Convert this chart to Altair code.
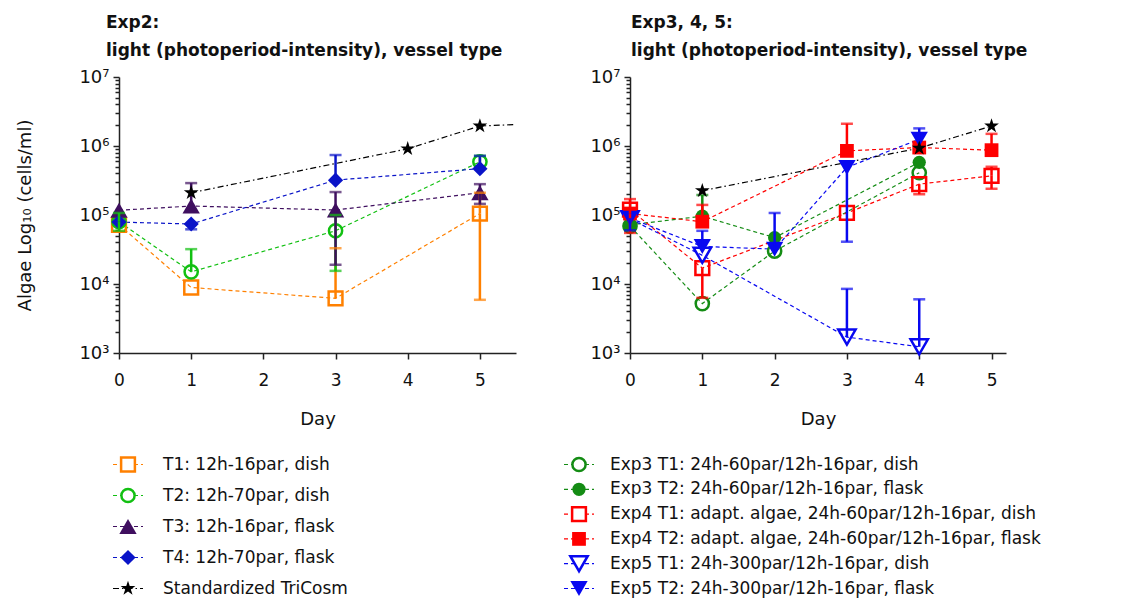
import altair as alt
import pandas as pd

FONT = "DejaVu Sans"
INK = "#111111"
AXIS_INK = "#222222"
# five-point star drawn inside the unit box [-1, 1]
STAR = ("M0,-1L0.2245,-0.309L0.9511,-0.309L0.3633,0.118L0.5878,0.809L0,0.382"
        "L-0.5878,0.809L-0.3633,0.118L-0.9511,-0.309L-0.2245,-0.309Z")
DASH = [4, 3]
DASH_DOT = [6, 3, 1.5, 3]
STAR_SIZE = 240

# ---------------- Exp2 ----------------
exp2_names = ["T1: 12h-16par, dish", "T2: 12h-70par, dish",
              "T3: 12h-16par, flask", "T4: 12h-70par, flask"]
exp2_colors = ["#ff8000", "#12c012", "#3f0f5f", "#0a14c8"]
exp2_shapes = ["square", "circle", "triangle-up", "diamond"]
exp2_sizes = [190, 175, 300, 230]
exp2_open = ["T1: 12h-16par, dish", "T2: 12h-70par, dish"]

t1_days = [0, 1, 3, 5]
t1_mean = [72000, 8900, 6200, 105000]
t1_hi = [None, None, 33000, 210000]
t1_lo = [None, None, None, 5900]

t2_days = [0, 1, 3, 5]
t2_mean = [80000, 15000, 59000, 590000]
t2_hi = [107000, 32000, 100000, 720000]
t2_lo = [59000, None, 15500, None]

t3_days = [0, 1, 3, 5]
t3_mean = [117000, 135000, 118000, 210000]
t3_hi = [None, 290000, 215000, 280000]
t3_lo = [None, None, 19000, 145000]

t4_days = [0, 1, 3, 5]
t4_mean = [79000, 74000, 320000, 470000]
t4_hi = [None, None, 740000, 720000]
t4_lo = [None, 62000, None, None]

tricosm_days_l = [1, 4, 5]
tricosm_l = [210000, 910000, 1950000]
tricosm_trend_days_l = [1, 4, 5, 5.5]
tricosm_trend_l = [210000, 910000, 1950000, 2050000]

# ---------------- Exp3, 4, 5 ----------------
exp345_names = ["Exp3 T1: 24h-60par/12h-16par, dish",
                "Exp3 T2: 24h-60par/12h-16par, flask",
                "Exp4 T1: adapt. algae, 24h-60par/12h-16par, dish",
                "Exp4 T2: adapt. algae, 24h-60par/12h-16par, flask",
                "Exp5 T1: 24h-300par/12h-16par, dish",
                "Exp5 T2: 24h-300par/12h-16par, flask"]
exp345_colors = ["#148c14", "#148c14", "#ff0000", "#ff0000", "#0808f0", "#0808f0"]
exp345_shapes = ["circle", "circle", "square", "square", "triangle-down", "triangle-down"]
exp345_sizes = [175, 175, 190, 190, 300, 300]
exp345_open = [exp345_names[0], exp345_names[2], exp345_names[4]]

e3t1_days = [0, 1, 2, 4]
e3t1_mean = [69000, 5200, 30000, 410000]
e3t1_hi = [None, None, None, None]
e3t1_lo = [None, None, None, None]

e3t2_days = [0, 1, 2, 4]
e3t2_mean = [72000, 96000, 47000, 580000]
e3t2_hi = [None, 195000, None, None]
e3t2_lo = [None, None, None, None]

e4t1_days = [0, 1, 3, 4, 5]
e4t1_mean = [120000, 17000, 107000, 280000, 370000]
e4t1_hi = [None, None, None, None, 500000]
e4t1_lo = [None, 6300, None, 200000, 240000]

e4t2_days = [0, 1, 3, 4, 5]
e4t2_mean = [105000, 80000, 850000, 950000, 870000]
e4t2_hi = [170000, 140000, 2100000, None, 1500000]
e4t2_lo = [55000, None, None, None, None]

e5t1_days = [0, 1, 3, 4]
e5t1_mean = [88000, 26000, 1700, 1230]
e5t1_hi = [None, None, 8500, 6000]
e5t1_lo = [None, None, None, None]

e5t2_days = [0, 1, 2, 3, 4]
e5t2_mean = [90000, 35000, 32000, 490000, 1250000]
e5t2_hi = [None, 59000, 107000, None, 1800000]
e5t2_lo = [60000, None, None, 41000, None]

tricosm_days_r = [1, 4, 5]
tricosm_r = [225000, 930000, 1950000]

TRICOSM = "Standardized TriCosm"
DAY_TICKS = [0, 1, 2, 3, 4, 5]
Y_TICKS = [m * 10 ** e for e in range(3, 7) for m in range(1, 10)] + [10 ** 7]
IS_DECADE = "abs(log(datum.value)/LN10 - round(log(datum.value)/LN10)) < 0.001"
SUP = "['\u2070','\u00b9','\u00b2','\u00b3','\u2074','\u2075','\u2076','\u2077']"


def frame(name, days, mean, hi, lo):
    return pd.DataFrame({"series": name, "day": days, "cells": mean,
                         "hi": pd.Series(hi, dtype="float"),
                         "lo": pd.Series(lo, dtype="float")})


def with_marker_size(df, names, sizes):
    out = df.copy()
    out["msize"] = out["series"].map(dict(zip(names, sizes))).astype(float)
    return out


def error_ends(df):
    up = df.dropna(subset=["hi"])[["series", "day", "cells", "hi"]]
    up = up.rename(columns={"cells": "base", "hi": "cells"})
    dn = df.dropna(subset=["lo"])[["series", "day", "cells", "lo"]]
    dn = dn.rename(columns={"cells": "base", "lo": "cells"})
    return pd.concat([up, dn], ignore_index=True)


def y_axis(title):
    return alt.Axis(values=Y_TICKS, title=title, labelOverlap=False, labelFlush=False,
                    labelExpr=f"{IS_DECADE} ? '10' + {SUP}[round(log(datum.value)/LN10)] : ''",
                    tickSize={"condition": {"test": IS_DECADE, "value": 6}, "value": 4},
                    labelPadding=4, titlePadding=44, labelFontSize=18)


def panel(data, star_pts, star_line, names, colors, shapes, sizes, open_names,
          width, xmax, ytitle, title_lines, title_dx):
    X = alt.X("day:Q", scale=alt.Scale(domain=[0, xmax], nice=False, zero=False),
              axis=alt.Axis(values=DAY_TICKS, format="d", title="Day", tickSize=6,
                            labelPadding=13, titlePadding=22, labelFlush=False))
    Y = alt.Y("cells:Q", scale=alt.Scale(type="log", domain=[1e3, 1e7], nice=False),
              axis=y_axis(ytitle))
    C = alt.Color("series:N", scale=alt.Scale(domain=names, range=colors), legend=None)
    S = alt.Shape("series:N", scale=alt.Scale(domain=names, range=shapes), legend=None)
    Z = alt.Size("msize:Q", scale=None, legend=None)
    filled_names = [n for n in names if n not in open_names]

    base = alt.Chart(with_marker_size(data, names, sizes))
    errs = alt.Chart(error_ends(data))
    lines = base.mark_line(strokeWidth=1.2, strokeDash=DASH).encode(X, Y, C)
    trend = alt.Chart(star_line).mark_line(strokeWidth=1.2, strokeDash=DASH_DOT,
                                           color="black").encode(X, Y)
    rules = errs.mark_rule(strokeWidth=2.5).encode(X, Y, alt.Y2("base:Q"), C)
    caps = errs.mark_tick(orient="horizontal", size=12, thickness=2.5).encode(X, Y, C)
    hollow = base.transform_filter(
        alt.FieldOneOfPredicate(field="series", oneOf=open_names)
    ).mark_point(filled=False, strokeWidth=2.5, opacity=1).encode(X, Y, C, S, Z)
    solid = base.transform_filter(
        alt.FieldOneOfPredicate(field="series", oneOf=filled_names)
    ).mark_point(filled=True, opacity=1).encode(X, Y, C, S, Z)
    stars = alt.Chart(star_pts).mark_point(shape=STAR, filled=True, color="black",
                                           size=STAR_SIZE, opacity=1).encode(X, Y)
    return alt.layer(lines, trend, hollow, solid, rules, caps, stars).properties(
        width=width, height=276,
        title=alt.TitleParams(text=title_lines, anchor="start", frame="group",
                              dx=title_dx, offset=8, fontSize=17, fontWeight="bold",
                              font=FONT, lineHeight=28, color=INK))


def legend(names, colors, shapes, dashes, open_names, sizes, width, pad, sym_x, text_x,
           star_name=None):
    all_names = names + ([star_name] if star_name else [])
    df = with_marker_size(pd.DataFrame({"series": names}), names, sizes)
    Y = alt.Y("series:N", scale=alt.Scale(type="point", domain=all_names, padding=pad),
              axis=None)
    C = alt.Color("series:N", scale=alt.Scale(domain=names, range=colors), legend=None)
    S = alt.Shape("series:N", scale=alt.Scale(domain=names, range=shapes), legend=None)
    Z = alt.Size("msize:Q", scale=None, legend=None)
    D = alt.StrokeDash("series:N", scale=alt.Scale(domain=names, range=dashes), legend=None)
    filled_names = [n for n in names if n not in open_names]
    base = alt.Chart(df)
    dash = base.mark_rule(strokeWidth=1.2).encode(
        x=alt.value(sym_x - 15), x2=alt.value(sym_x + 15), y=Y, color=C, strokeDash=D)
    hollow = base.transform_filter(
        alt.FieldOneOfPredicate(field="series", oneOf=open_names)
    ).mark_point(filled=False, strokeWidth=2.5, opacity=1, fill="white").encode(
        x=alt.value(sym_x), y=Y, color=C, shape=S, size=Z)
    solid = base.transform_filter(
        alt.FieldOneOfPredicate(field="series", oneOf=filled_names)
    ).mark_point(filled=True, opacity=1).encode(
        x=alt.value(sym_x), y=Y, color=C, shape=S, size=Z)
    layers = [dash, hollow, solid]
    if star_name:
        star_df = alt.Chart(pd.DataFrame({"series": [star_name]}))
        layers.append(star_df.mark_rule(strokeWidth=1.2, strokeDash=DASH_DOT, color="black")
                      .encode(x=alt.value(sym_x - 15), x2=alt.value(sym_x + 15), y=Y))
        layers.append(star_df.mark_point(shape=STAR, filled=True, color="black",
                                         size=STAR_SIZE, opacity=1)
                      .encode(x=alt.value(sym_x), y=Y))
    text = alt.Chart(pd.DataFrame({"series": all_names})).mark_text(
        align="left", baseline="middle", font=FONT, fontSize=17, color=INK
    ).encode(x=alt.value(text_x), y=Y, text="series:N")
    layers.append(text)
    return alt.layer(*layers).properties(width=width, height=155)


exp2 = pd.concat([frame(exp2_names[0], t1_days, t1_mean, t1_hi, t1_lo),
                  frame(exp2_names[1], t2_days, t2_mean, t2_hi, t2_lo),
                  frame(exp2_names[2], t3_days, t3_mean, t3_hi, t3_lo),
                  frame(exp2_names[3], t4_days, t4_mean, t4_hi, t4_lo)], ignore_index=True)
exp345 = pd.concat([frame(exp345_names[0], e3t1_days, e3t1_mean, e3t1_hi, e3t1_lo),
                    frame(exp345_names[1], e3t2_days, e3t2_mean, e3t2_hi, e3t2_lo),
                    frame(exp345_names[2], e4t1_days, e4t1_mean, e4t1_hi, e4t1_lo),
                    frame(exp345_names[3], e4t2_days, e4t2_mean, e4t2_hi, e4t2_lo),
                    frame(exp345_names[4], e5t1_days, e5t1_mean, e5t1_hi, e5t1_lo),
                    frame(exp345_names[5], e5t2_days, e5t2_mean, e5t2_hi, e5t2_lo)],
                   ignore_index=True)

star_pts_l = pd.DataFrame({"day": tricosm_days_l, "cells": tricosm_l})
star_line_l = pd.DataFrame({"day": tricosm_trend_days_l, "cells": tricosm_trend_l})
star_pts_r = pd.DataFrame({"day": tricosm_days_r, "cells": tricosm_r})

left = panel(exp2, star_pts_l, star_line_l, exp2_names, exp2_colors, exp2_shapes,
             exp2_sizes, exp2_open, 397, 5.5, "Algae Log\u2081\u2080 (cells/ml)",
             ["Exp2:", "light (photoperiod-intensity), vessel type"], -13)
right = panel(exp345, star_pts_r, star_pts_r, exp345_names, exp345_colors,
              exp345_shapes, exp345_sizes, exp345_open, 376, 5.2, None,
              ["Exp3, 4, 5:", "light (photoperiod-intensity), vessel type"], 1)

legend_left = legend(exp2_names, exp2_colors, exp2_shapes, [DASH] * 4, exp2_open,
                     exp2_sizes, 397, 0.5, 9, 44, star_name=TRICOSM)
legend_right = legend(exp345_names, exp345_colors, exp345_shapes, [DASH] * 6,
                      exp345_open, exp345_sizes, 376, 0.625, -51, -20)

chart = alt.concat(left, right, legend_left, legend_right, columns=2,
                   spacing={"column": 114, "row": 96}, bounds="flush", align="each"
                   ).resolve_scale(
    color="independent", shape="independent", strokeDash="independent",
).properties(
    padding={"left": 16, "top": 14, "right": 5, "bottom": 0},
    background="white",
).configure_view(stroke=None).configure_axis(
    grid=False, domainColor=AXIS_INK, tickColor=AXIS_INK, domainWidth=1.5,
    tickWidth=1.5, labelFont=FONT, labelFontSize=17, labelColor=INK,
    titleFont=FONT, titleFontSize=18, titleFontWeight="normal", titleColor=INK)

chart.save("out.html", embed_options={"renderer": "svg", "actions": False})
